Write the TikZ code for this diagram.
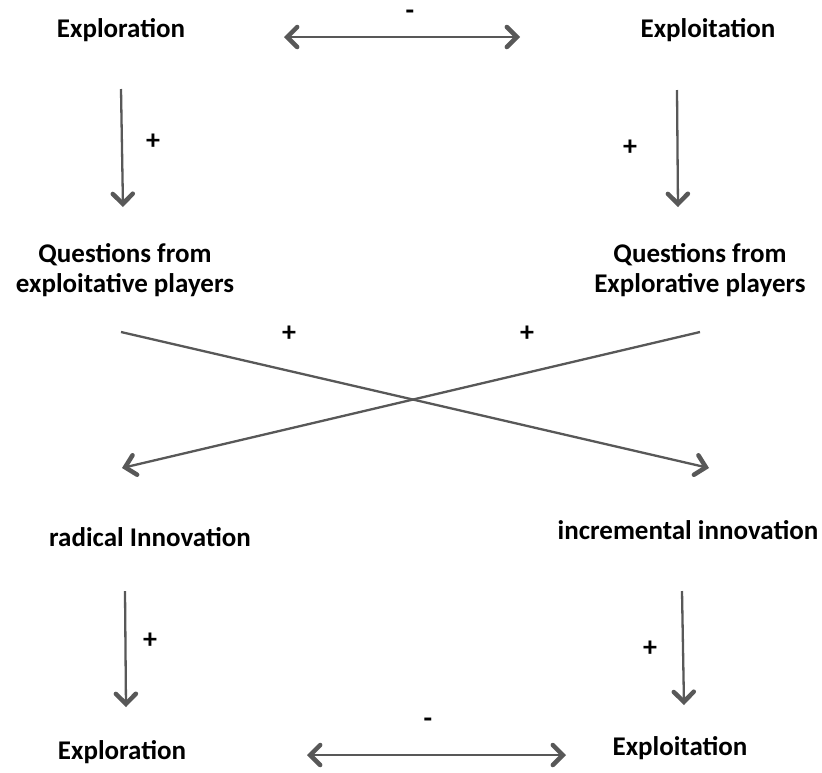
\documentclass[tikz,border=0pt]{standalone}
\usepackage{fontspec}
\setmainfont{Carlito}
\usetikzlibrary{arrows.meta}
\definecolor{linegray}{HTML}{585858}
\tikzset{
  lbl/.style={font=\bfseries\fontsize{27}{30}\selectfont, align=center, inner sep=0pt},
  sign/.style={font=\bfseries\fontsize{28}{30}\selectfont, inner sep=0pt},
  tip/.style={Straight Barb[length=10pt,width=20pt,line width=4.5pt,line cap=round]},
  conn/.style={draw=linegray, line width=2.3pt, -{Straight Barb[length=10pt,width=20pt,line width=4.5pt,line cap=round]}},
  dconn/.style={draw=linegray, line width=2.3pt,
    {Straight Barb[length=10pt,width=20pt,line width=4.5pt,line cap=round]}-{Straight Barb[length=10pt,width=20pt,line width=4.5pt,line cap=round]}},
}
\begin{document}
\begin{tikzpicture}[x=1pt,y=-1pt]
\useasboundingbox[fill=white] (0,0) rectangle (822,772);

% labels
\node[lbl] (explTop) at (121,30) {Exploration};
\node[lbl] (exploitTop) at (708,30) {Exploitation};
\node[lbl] (qLeft) at (125,270) {Questions from\\exploitative players};
\node[lbl] (qRight) at (700,270) {Questions from\\Explorative players};
\node[lbl] (radical) at (150,537) {radical Innovation};
\node[lbl] (incremental) at (688,530) {incremental innovation};
\node[lbl] (explBot) at (122,752) {Exploration};
\node[lbl] (exploitBot) at (680,748) {Exploitation};

% signs
\node[sign] (sTop) at (410,15) {-};
\node[sign] (sL1) at (153,142) {+};
\node[sign] (sR1) at (630,148) {+};
\node[sign] (sX1) at (289,334) {+};
\node[sign] (sX2) at (527,334) {+};
\node[sign] (sL2) at (150,641) {+};
\node[sign] (sR2) at (650,649) {+};
\node[sign] (sBot) at (428,723) {-};

% connector end points
\coordinate (tA) at (284,37);
\coordinate (tB) at (520,37);
\coordinate (l1a) at (121,89);
\coordinate (l1b) at (123,207);
\coordinate (r1a) at (677,90);
\coordinate (r1b) at (678,207);
\coordinate (xa1) at (121,332);
\coordinate (xb1) at (709,468);
\coordinate (xa2) at (700,332);
\coordinate (xb2) at (122,468);
\coordinate (l2a) at (125,591);
\coordinate (l2b) at (126,707);
\coordinate (r2a) at (682,591);
\coordinate (r2b) at (684,705);
\coordinate (bA) at (307,755);
\coordinate (bB) at (566,755);

% connectors
\draw[dconn] (tA) -- (tB);
\draw[conn] (l1a) -- (l1b);
\draw[conn] (r1a) -- (r1b);
\draw[conn] (xa1) -- (xb1);
\draw[conn] (xa2) -- (xb2);
\draw[conn] (l2a) -- (l2b);
\draw[conn] (r2a) -- (r2b);
\draw[dconn] (bA) -- (bB);
\end{tikzpicture}
\end{document}
